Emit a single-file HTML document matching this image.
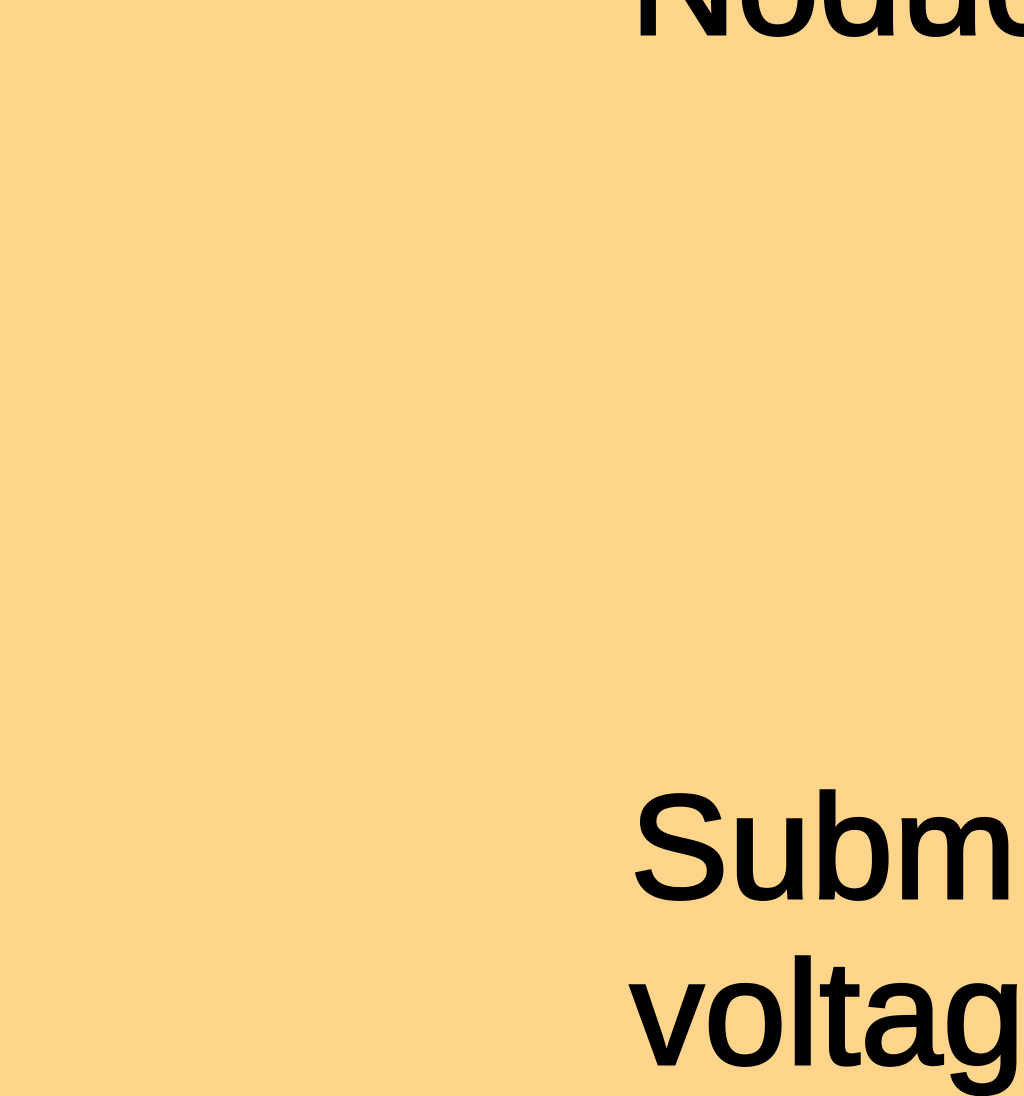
<!DOCTYPE html>
<html><head><style>
html,body{margin:0;padding:0;width:1024px;height:1024px;overflow:hidden;background:#FFD58C;}
.t{position:absolute;left:630px;font-family:"Liberation Sans",sans-serif;font-size:148px;font-weight:normal;-webkit-text-stroke:3px #000;color:#000;white-space:nowrap;line-height:1;}
</style></head><body>
<div class="t" style="top:-90px;">Noduc</div>
<div class="t" style="top:774px;">Subm</div>
<div class="t" style="top:940px;">voltag</div>
</body></html>
